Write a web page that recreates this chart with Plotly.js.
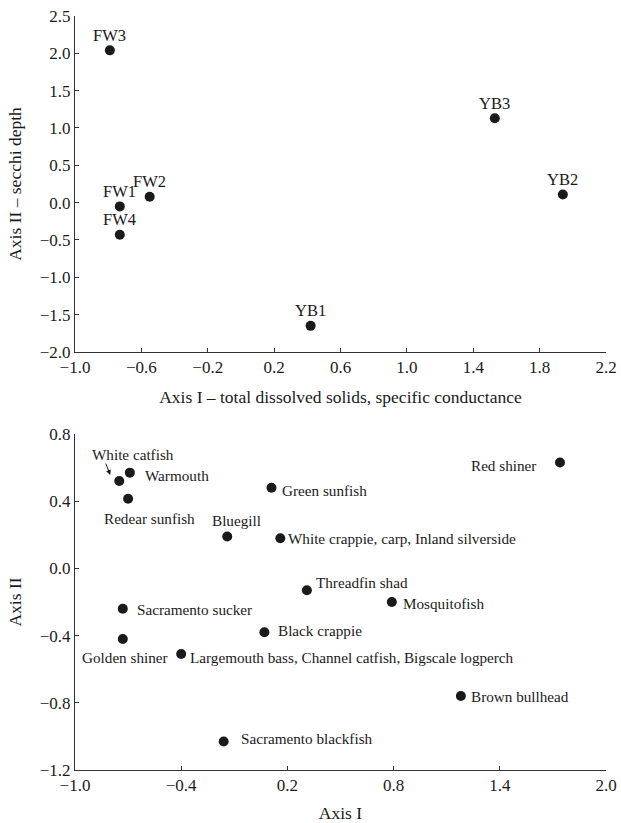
<!DOCTYPE html>
<html>
<head>
<meta charset="utf-8">
<script src="https://cdn.plot.ly/plotly-3.0.1.min.js"></script>
<style>html,body{margin:0;padding:0;background:#fff;}#chart{width:621px;height:823px;}</style>
</head>
<body>
<div id="chart"></div>
<script>
// ---- Top panel: sites ----
const siteNames = ['FW3', 'FW1', 'FW2', 'FW4', 'YB1', 'YB3', 'YB2'];
const siteAxisI = [-0.79, -0.73, -0.55, -0.73, 0.42, 1.53, 1.94];
const siteAxisII = [2.04, -0.05, 0.08, -0.43, -1.65, 1.13, 0.11];

// ---- Bottom panel: species ----
const speciesNames = [
  'White catfish', 'Warmouth', 'Redear sunfish', 'Green sunfish', 'Bluegill',
  'White crappie, carp, Inland silverside', 'Red shiner', 'Threadfin shad',
  'Mosquitofish', 'Sacramento sucker', 'Black crappie', 'Golden shiner',
  'Largemouth bass, Channel catfish, Bigscale logperch', 'Brown bullhead',
  'Sacramento blackfish'
];
const speciesAxisI = [-0.75, -0.69, -0.70, 0.11, -0.14, 0.16, 1.74, 0.31, 0.79, -0.73, 0.07, -0.73, -0.40, 1.18, -0.16];
const speciesAxisII = [0.52, 0.57, 0.415, 0.48, 0.19, 0.18, 0.63, -0.13, -0.20, -0.24, -0.38, -0.42, -0.51, -0.76, -1.03];

// label placement (style only)
const spAnchor = ['center','left','center','left','center','left','right','left','left','left','left','center','left','left','left'];
const spDx = [14, 13, 21, 9, 9, 6, -22, 7, 9, 12, 12, 2, 7, 8, 15];
const spDy = [27, -3, -20, -3, 16, 0, -3, 8, -1, -1, 2, -19, -3, 0, 3];

const serif = 'Liberation Serif, Times New Roman, serif';
const ink = '#1a1a1a';

const traces = [
  {x: siteAxisI, y: siteAxisII, type: 'scatter', mode: 'markers', xaxis: 'x', yaxis: 'y',
   marker: {size: 10, color: ink}, hoverinfo: 'text', text: siteNames},
  {x: speciesAxisI, y: speciesAxisII, type: 'scatter', mode: 'markers', xaxis: 'x2', yaxis: 'y2',
   marker: {size: 10, color: ink}, hoverinfo: 'text', text: speciesNames}
];

const annotations = [];
siteNames.forEach((n, i) => {
  annotations.push({x: siteAxisI[i], y: siteAxisII[i], xref: 'x', yref: 'y', text: n,
    showarrow: false, xanchor: 'center', yanchor: 'middle', yshift: 15,
    font: {family: serif, size: 16.5, color: ink}});
});
speciesNames.forEach((n, i) => {
  annotations.push({x: speciesAxisI[i], y: speciesAxisII[i], xref: 'x2', yref: 'y2', text: n,
    showarrow: false, xanchor: spAnchor[i], yanchor: 'middle', xshift: spDx[i], yshift: spDy[i],
    font: {family: serif, size: 15.2, color: ink}});
});
// small arrow pointing at White catfish
annotations.push({x: speciesAxisI[0], y: speciesAxisII[0], xref: 'x2', yref: 'y2', text: '',
  showarrow: true, arrowhead: 2, arrowsize: 1, arrowwidth: 1, arrowcolor: ink,
  xshift: -9, yshift: 6, ax: -5, ay: -13});

const axisCommon = {
  showline: true, linecolor: '#333', linewidth: 1, mirror: false,
  showgrid: false, zeroline: false, ticks: 'inside', ticklen: 4, tickcolor: '#333',
  tickfont: {family: serif, size: 17, color: ink}, tickformat: '.1f'
};

const layout = {
  width: 621, height: 823,
  margin: {l: 75, r: 15, t: 16, b: 53},
  paper_bgcolor: '#fff', plot_bgcolor: '#fff',
  showlegend: false,
  font: {family: serif, color: ink},
  xaxis: Object.assign({}, axisCommon, {domain: [0, 1], anchor: 'y', range: [-1, 2.2], tick0: -1, dtick: 0.4,
    title: {text: 'Axis I \u2013 total dissolved solids, specific conductance', font: {family: serif, size: 17.5, color: ink}, standoff: 14}}),
  yaxis: Object.assign({}, axisCommon, {domain: [0.5544, 1], anchor: 'x', range: [-2, 2.5], tick0: -2, dtick: 0.5,
    title: {text: 'Axis II \u2013 secchi depth', font: {family: serif, size: 17.5, color: ink}, standoff: 13}}),
  xaxis2: Object.assign({}, axisCommon, {domain: [0, 1], anchor: 'y2', range: [-1, 2.0], tick0: -1, dtick: 0.6,
    title: {text: 'Axis I', font: {family: serif, size: 17.5, color: ink}, standoff: 12}}),
  yaxis2: Object.assign({}, axisCommon, {domain: [0, 0.4456], anchor: 'x2', range: [-1.2, 0.8], tick0: -1.2, dtick: 0.4,
    title: {text: 'Axis II', font: {family: serif, size: 17.5, color: ink}, standoff: 13}}),
  annotations: annotations
};

Plotly.newPlot('chart', traces, layout, {displayModeBar: false, staticPlot: true});
</script>
</body>
</html>
